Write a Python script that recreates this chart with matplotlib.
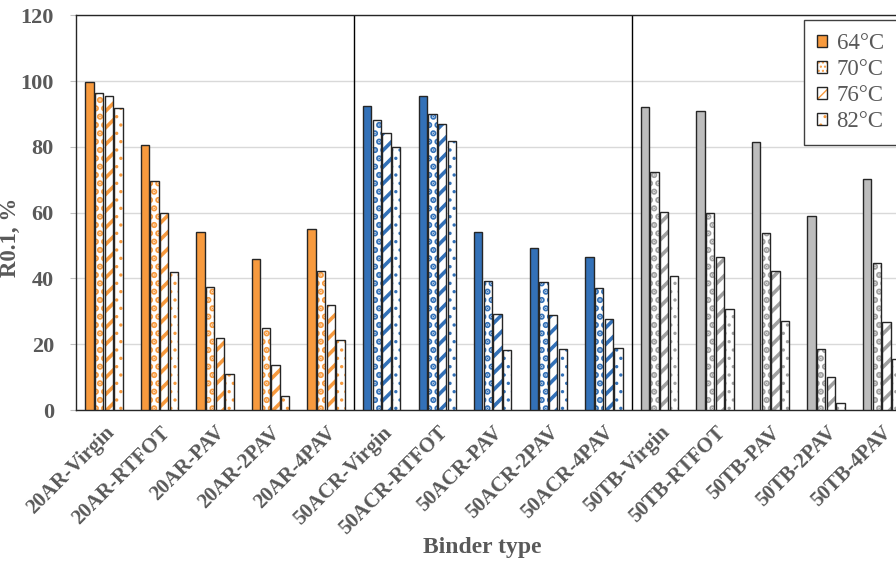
import matplotlib
matplotlib.use("Agg")
import numpy as np
import matplotlib.pyplot as plt

# MARK:- data
binders = ["20AR-Virgin", "20AR-RTFOT", "20AR-PAV", "20AR-2PAV", "20AR-4PAV",
           "50ACR-Virgin", "50ACR-RTFOT", "50ACR-PAV", "50ACR-2PAV", "50ACR-4PAV",
           "50TB-Virgin", "50TB-RTFOT", "50TB-PAV", "50TB-2PAV", "50TB-4PAV"]
temps = ["64°C", "70°C", "76°C", "82°C"]

r64 = [99.8, 80.5, 54.0, 46.0, 55.0, 92.3, 95.3, 54.0, 49.2, 46.4, 92.0, 91.0, 81.6, 59.1, 70.1]
r70 = [96.5, 69.5, 37.5, 25.0, 42.2, 88.2, 90.0, 39.3, 38.8, 37.0, 72.4, 59.8, 53.8, 18.7, 44.6]
r76 = [95.3, 60.0, 22.0, 13.8, 32.0, 84.2, 86.8, 29.2, 29.0, 27.8, 60.3, 46.4, 42.3, 10.0, 26.7]
r82 = [91.8, 42.0, 11.0, 4.3, 21.3, 80.0, 81.8, 18.3, 18.4, 19.0, 40.7, 30.6, 27.1, 2.2, 15.6]

group_colors = ["#F79A3E", "#3371B8", "#BDBDBD"]
hatch_colors = ["#F79A3E", "#3371B8", "#A0A0A0"]
hatches = [None, "..", "//", ".."]
hatch_lw = [1.0, 3.2, 2.6, 1.2]

# MARK:- plot
plt.rcParams["font.family"] = ["Liberation Serif", "DejaVu Serif"]
txt = "#595959"
edge = "#262626"

fig = plt.figure(figsize=(8.96, 5.64), dpi=100)
ax = fig.add_axes([0.085, 0.273, 0.93, 0.700])

x = np.arange(len(binders))
step = 0.174
width = 0.15
series = [r64, r70, r76, r82]

for k, vals in enumerate(series):
    off = (k - 1.5) * step
    for g in range(3):
        idx = slice(g * 5, g * 5 + 5)
        xs = x[idx] + off
        vs = vals[idx]
        if hatches[k] is None:
            ax.bar(xs, vs, width, color=group_colors[g], edgecolor=edge, linewidth=1.0, zorder=3)
        else:
            with plt.rc_context({"hatch.linewidth": hatch_lw[k]}):
                ax.bar(xs, vs, width, color="white", edgecolor=hatch_colors[g],
                       hatch=hatches[k], linewidth=0, zorder=3)
            ax.bar(xs, vs, width, color="none", edgecolor=edge, linewidth=1.0, zorder=4)

# separators between binder families
for sep in [4.5, 9.5]:
    ax.axvline(sep, color="black", linewidth=1.0, zorder=2)

ax.set_xlim(-0.5, len(binders) - 0.5)
ax.set_ylim(0, 120)
ax.set_yticks(np.arange(0, 121, 20))
ax.yaxis.grid(True, color="#D9D9D9", linewidth=1.0, zorder=0)
ax.set_axisbelow(True)

ax.set_xticks(x)
ax.set_xticklabels(binders, rotation=45, ha="right", rotation_mode="anchor",
                   fontsize=15, fontweight="bold", color=txt)
ax.tick_params(axis="x", length=0, pad=9)
ax.tick_params(axis="y", labelsize=16, colors=txt, length=4, color="#BFBFBF", pad=12)
for lab in ax.get_yticklabels():
    lab.set_fontweight("bold")

for sp in ax.spines.values():
    sp.set_color(edge)
    sp.set_linewidth(1.0)

ax.set_ylabel("R0.1, %", fontsize=16.5, fontweight="bold", color=txt)
ax.yaxis.set_label_coords(-0.066, 0.438)
fig.text(0.5385, 1 - 547 / 564, "Binder type", fontsize=17, fontweight="bold",
         color=txt, ha="center", va="center")

# legend with orange swatches
handles = []
for k in range(4):
    if hatches[k] is None:
        h = plt.Rectangle((0, 0), 1, 1, facecolor=group_colors[0], edgecolor=edge, linewidth=1.0)
    else:
        with plt.rc_context({"hatch.linewidth": hatch_lw[k]}):
            h1 = plt.Rectangle((0, 0), 1, 1, facecolor="white", edgecolor=hatch_colors[0],
                               hatch=hatches[k] * 2 if k == 1 else hatches[k], linewidth=0)
        h2 = plt.Rectangle((0, 0), 1, 1, facecolor="none", edgecolor=edge, linewidth=1.0)
        h = (h1, h2)
    handles.append(h)
leg = ax.legend(handles, temps, loc="upper right", bbox_to_anchor=(1.001, 1 - 20 / 564),
                bbox_transform=fig.transFigure, borderaxespad=0, fancybox=False,
                edgecolor="#404040", fontsize=16.4, handlelength=0.45, handleheight=0.45,
                handletextpad=0.4, labelspacing=0.22, borderpad=0.58, framealpha=1)
leg.get_frame().set_linewidth(1.0)
for t in leg.get_texts():
    t.set_color(txt)

fig.savefig("out.png", dpi=100)
